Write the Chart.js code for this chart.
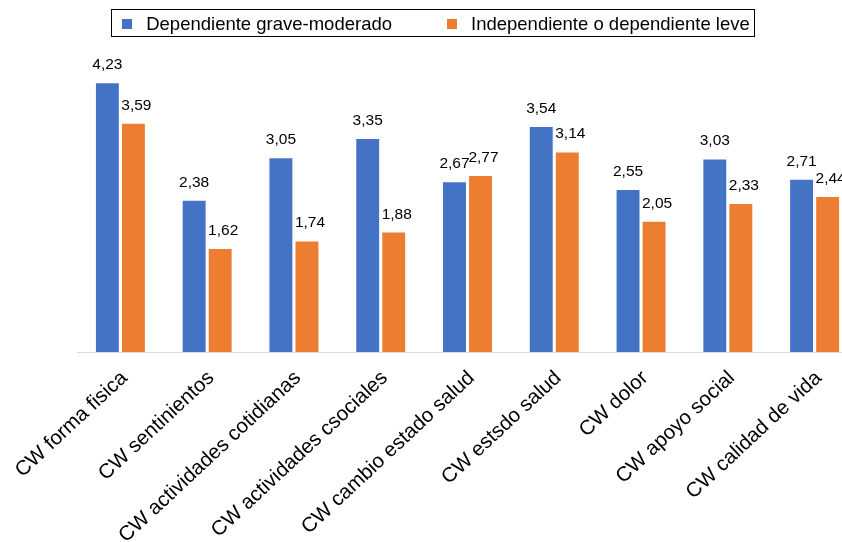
<!DOCTYPE html>
<html>
<head>
<meta charset="utf-8">
<script src="https://cdn.jsdelivr.net/npm/chart.js@4.4.1/dist/chart.umd.min.js"></script>
<style>
  html, body { margin: 0; padding: 0; background: #fff; overflow: hidden; }
  #wrap { position: relative; width: 870px; height: 542px; }
</style>
</head>
<body>
<div id="wrap"><canvas id="chart" width="870" height="542"></canvas></div>
<script>
// Categories and series
const categories = [
    'CW forma fisica',
    'CW sentinientos',
    'CW actividades cotidianas',
    'CW actividades csociales',
    'CW cambio estado salud',
    'CW estsdo salud',
    'CW dolor',
    'CW apoyo social',
    'CW calidad de vida',
];
const seriesNames = ['Dependiente grave-moderado', 'Independiente o dependiente leve'];
const graveModerado = [4.23, 2.38, 3.05, 3.35, 2.67, 3.54, 2.55, 3.03, 2.71];
const independienteLeve = [3.59, 1.62, 1.74, 1.88, 2.77, 3.14, 2.05, 2.33, 2.44];

const FONT = '"Liberation Sans", Arial, Helvetica, sans-serif';

// Value labels above each bar (comma decimal); orange ones sit a touch to the right
const labelShift = [0, 3];
const valueLabels = {
    id: 'valueLabels',
    afterDatasetsDraw(chart) {
        const ctx = chart.ctx;
        ctx.save();
        ctx.font = '15.5px ' + FONT;
        ctx.fillStyle = '#000';
        ctx.textAlign = 'center';
        ctx.textBaseline = 'alphabetic';
        chart.data.datasets.forEach((ds, i) => {
            chart.getDatasetMeta(i).data.forEach((bar, j) => {
                const txt = ds.data[j].toFixed(2).replace('.', ',');
                ctx.fillText(txt, bar.x + labelShift[i], bar.y - 14);
            });
        });
        ctx.restore();
    },
};

// Boxed legend like the spreadsheet one, centred a bit right of the canvas middle
const boxedLegend = {
    id: 'boxedLegend',
    afterDraw(chart) {
        const ctx = chart.ctx;
        const sq = 10, gapText = 14, gapItem = 55;
        ctx.save();
        ctx.font = '18.5px ' + FONT;
        const items = chart.data.datasets.map((ds) => ({
            text: ds.label,
            color: ds.backgroundColor,
            w: ctx.measureText(ds.label).width,
        }));
        const inner = items.reduce((s, it) => s + sq + gapText + it.w, 0) + gapItem * (items.length - 1);
        const cx = 436, cy = 23.5;
        let x = cx - inner / 2;
        ctx.strokeStyle = '#000';
        ctx.lineWidth = 1;
        ctx.strokeRect(Math.round(x - 11) + 0.5, 9.5, Math.round(inner + 15), 27);
        ctx.textBaseline = 'middle';
        ctx.textAlign = 'left';
        items.forEach((it) => {
            ctx.fillStyle = it.color;
            ctx.fillRect(Math.round(x), Math.round(cy - sq / 2), sq, sq);
            x += sq + gapText;
            ctx.fillStyle = '#000';
            ctx.fillText(it.text, x, cy + 1);
            x += it.w + gapItem;
        });
        ctx.restore();
    },
};

new Chart(document.getElementById('chart'), {
    type: 'bar',
    data: {
        labels: categories,
        datasets: [
            {
                label: seriesNames[0],
                data: graveModerado,
                backgroundColor: '#4472C4',
            },
            {
                label: seriesNames[1],
                data: independienteLeve,
                backgroundColor: '#ED7D31',
            },
        ],
    },
    options: {
        responsive: false,
        animation: false,
        devicePixelRatio: 1,
        categoryPercentage: 0.6,
        barPercentage: 0.88,
        layout: { padding: { left: 77, right: 12, top: 45, bottom: 0 } },
        plugins: {
            tooltip: { enabled: false },
            legend: { display: false },
        },
        scales: {
            x: {
                grid: { display: false, drawTicks: false },
                border: { color: '#d9d9d9', width: 1 },
                afterFit(scale) {
                    scale.height = 190;
                    scale.paddingLeft = 0;
                    scale.paddingRight = 0;
                },
                ticks: {
                    color: '#000',
                    font: { family: FONT, size: 20.5 },
                    minRotation: 43,
                    maxRotation: 43,
                    padding: 14,
                    labelOffset: 4,
                    autoSkip: false,
                },
            },
            y: {
                display: false,
                min: 0,
                max: 4.83,
            },
        },
    },
    plugins: [valueLabels, boxedLegend],
});
</script>
</body>
</html>
